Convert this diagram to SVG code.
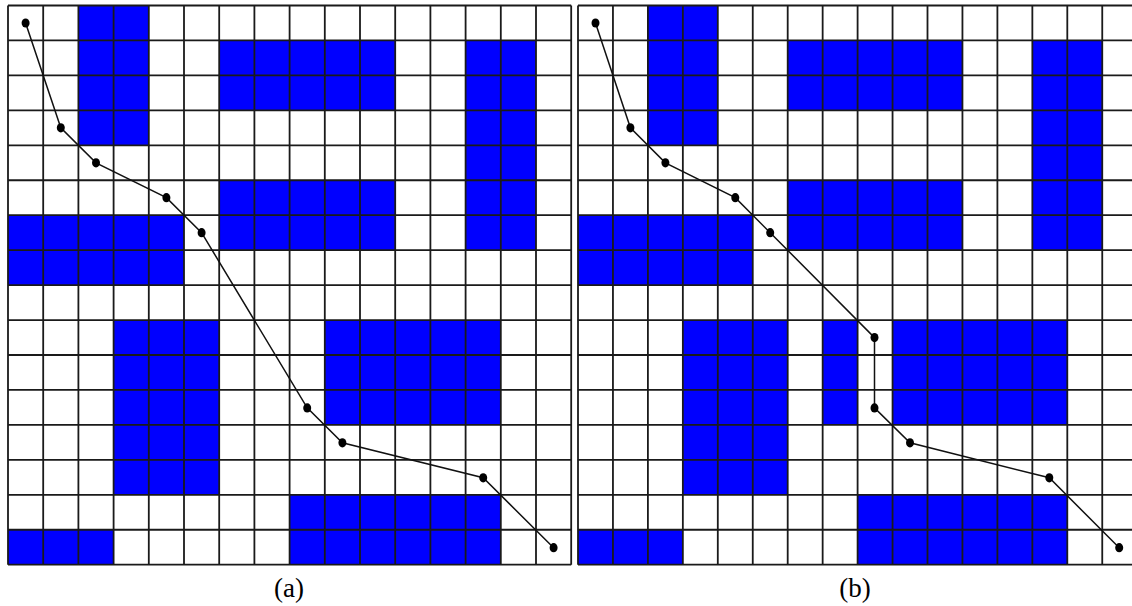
<svg xmlns="http://www.w3.org/2000/svg" width="1132" height="606" viewBox="0 0 1132 606">
<style>
.obs{fill:#0000ff;stroke:none}
.grid{fill:none;stroke:#1a1a1a;stroke-width:1.8}
.path{fill:none;stroke:#111;stroke-width:1.5}
.dot{fill:#000}
.lbl{font-family:"Liberation Serif","Times New Roman",serif;font-size:27px;fill:#000;text-anchor:middle}
</style>
<rect width="1132" height="606" fill="#fff"/>
<g id="grid-a">
<rect class="obs" x="78.4" y="5.5" width="70.4" height="139.8"/>
<rect class="obs" x="219.2" y="40.45" width="176" height="69.9"/>
<rect class="obs" x="465.6" y="40.45" width="70.4" height="209.7"/>
<rect class="obs" x="219.2" y="180.25" width="176" height="69.9"/>
<rect class="obs" x="8" y="215.2" width="176" height="69.9"/>
<rect class="obs" x="113.6" y="320.05" width="105.6" height="174.75"/>
<rect class="obs" x="324.8" y="320.05" width="176" height="104.85"/>
<rect class="obs" x="289.6" y="494.8" width="211.2" height="69.9"/>
<rect class="obs" x="8" y="529.75" width="105.6" height="34.95"/>
<path class="grid" d="M8 5.5v559.2m35.2 -559.2v559.2m35.2 -559.2v559.2m35.2 -559.2v559.2m35.2 -559.2v559.2m35.2 -559.2v559.2m35.2 -559.2v559.2m35.2 -559.2v559.2m35.2 -559.2v559.2m35.2 -559.2v559.2m35.2 -559.2v559.2m35.2 -559.2v559.2m35.2 -559.2v559.2m35.2 -559.2v559.2m35.2 -559.2v559.2m35.2 -559.2v559.2m35.2 -559.2v559.2"/>
<path class="grid" d="M8 5.5h563.2m-563.2 34.95h563.2m-563.2 34.95h563.2m-563.2 34.95h563.2m-563.2 34.95h563.2m-563.2 34.95h563.2m-563.2 34.95h563.2m-563.2 34.95h563.2m-563.2 34.95h563.2m-563.2 34.95h563.2m-563.2 34.95h563.2m-563.2 34.95h563.2m-563.2 34.95h563.2m-563.2 34.95h563.2m-563.2 34.95h563.2m-563.2 34.95h563.2m-563.2 34.95h563.2"/>
<text class="lbl" x="289" y="597">(a)</text>
</g>
<g id="grid-b">
<rect class="obs" x="647.9" y="5.5" width="69.9" height="139.8"/>
<rect class="obs" x="787.7" y="40.45" width="174.75" height="69.9"/>
<rect class="obs" x="1032.35" y="40.45" width="69.9" height="209.7"/>
<rect class="obs" x="787.7" y="180.25" width="174.75" height="69.9"/>
<rect class="obs" x="578" y="215.2" width="174.75" height="69.9"/>
<rect class="obs" x="682.85" y="320.05" width="104.85" height="174.75"/>
<rect class="obs" x="822.65" y="320.05" width="34.95" height="104.85"/>
<rect class="obs" x="892.55" y="320.05" width="174.75" height="104.85"/>
<rect class="obs" x="857.6" y="494.8" width="209.7" height="69.9"/>
<rect class="obs" x="578" y="529.75" width="104.85" height="34.95"/>
<path class="grid" d="M578 5.5v559.2m34.95 -559.2v559.2m34.95 -559.2v559.2m34.95 -559.2v559.2m34.95 -559.2v559.2m34.95 -559.2v559.2m34.95 -559.2v559.2m34.95 -559.2v559.2m34.95 -559.2v559.2m34.95 -559.2v559.2m34.95 -559.2v559.2m34.95 -559.2v559.2m34.95 -559.2v559.2m34.95 -559.2v559.2m34.95 -559.2v559.2m34.95 -559.2v559.2m34.95 -559.2v559.2"/>
<path class="grid" d="M578 5.5h559.2m-559.2 34.95h559.2m-559.2 34.95h559.2m-559.2 34.95h559.2m-559.2 34.95h559.2m-559.2 34.95h559.2m-559.2 34.95h559.2m-559.2 34.95h559.2m-559.2 34.95h559.2m-559.2 34.95h559.2m-559.2 34.95h559.2m-559.2 34.95h559.2m-559.2 34.95h559.2m-559.2 34.95h559.2m-559.2 34.95h559.2m-559.2 34.95h559.2m-559.2 34.95h559.2"/>
<text class="lbl" x="855" y="597">(b)</text>
</g>
<g id="connectors">
<polyline class="path" points="25.6,23 60.8,127.8 96,162.8 166.4,197.7 201.6,232.7 307.2,407.9 342.4,442.8 483.2,477.8 553.6,547.7"/>
<polyline class="path" points="595.5,23 630.4,127.8 665.4,162.8 735.3,197.7 770.2,232.7 874.5,337.6 874.5,407.9 910,442.8 1049.3,477.8 1119.2,547.7"/>
</g>
<g id="waypoints-a">
<ellipse class="dot" cx="25.6" cy="23" rx="4" ry="4.6"/>
<ellipse class="dot" cx="60.8" cy="127.8" rx="4" ry="4.6"/>
<ellipse class="dot" cx="96" cy="162.8" rx="4" ry="4.6"/>
<ellipse class="dot" cx="166.4" cy="197.7" rx="4" ry="4.6"/>
<ellipse class="dot" cx="201.6" cy="232.7" rx="4" ry="4.6"/>
<ellipse class="dot" cx="307.2" cy="407.9" rx="4" ry="4.6"/>
<ellipse class="dot" cx="342.4" cy="442.8" rx="4" ry="4.6"/>
<ellipse class="dot" cx="483.2" cy="477.8" rx="4" ry="4.6"/>
<ellipse class="dot" cx="553.6" cy="547.7" rx="4" ry="4.6"/>
</g>
<g id="waypoints-b">
<ellipse class="dot" cx="595.5" cy="23" rx="4" ry="4.6"/>
<ellipse class="dot" cx="630.4" cy="127.8" rx="4" ry="4.6"/>
<ellipse class="dot" cx="665.4" cy="162.8" rx="4" ry="4.6"/>
<ellipse class="dot" cx="735.3" cy="197.7" rx="4" ry="4.6"/>
<ellipse class="dot" cx="770.2" cy="232.7" rx="4" ry="4.6"/>
<ellipse class="dot" cx="874.5" cy="337.6" rx="4" ry="4.6"/>
<ellipse class="dot" cx="874.5" cy="407.9" rx="4" ry="4.6"/>
<ellipse class="dot" cx="910" cy="442.8" rx="4" ry="4.6"/>
<ellipse class="dot" cx="1049.3" cy="477.8" rx="4" ry="4.6"/>
<ellipse class="dot" cx="1119.2" cy="547.7" rx="4" ry="4.6"/>
</g>
</svg>
